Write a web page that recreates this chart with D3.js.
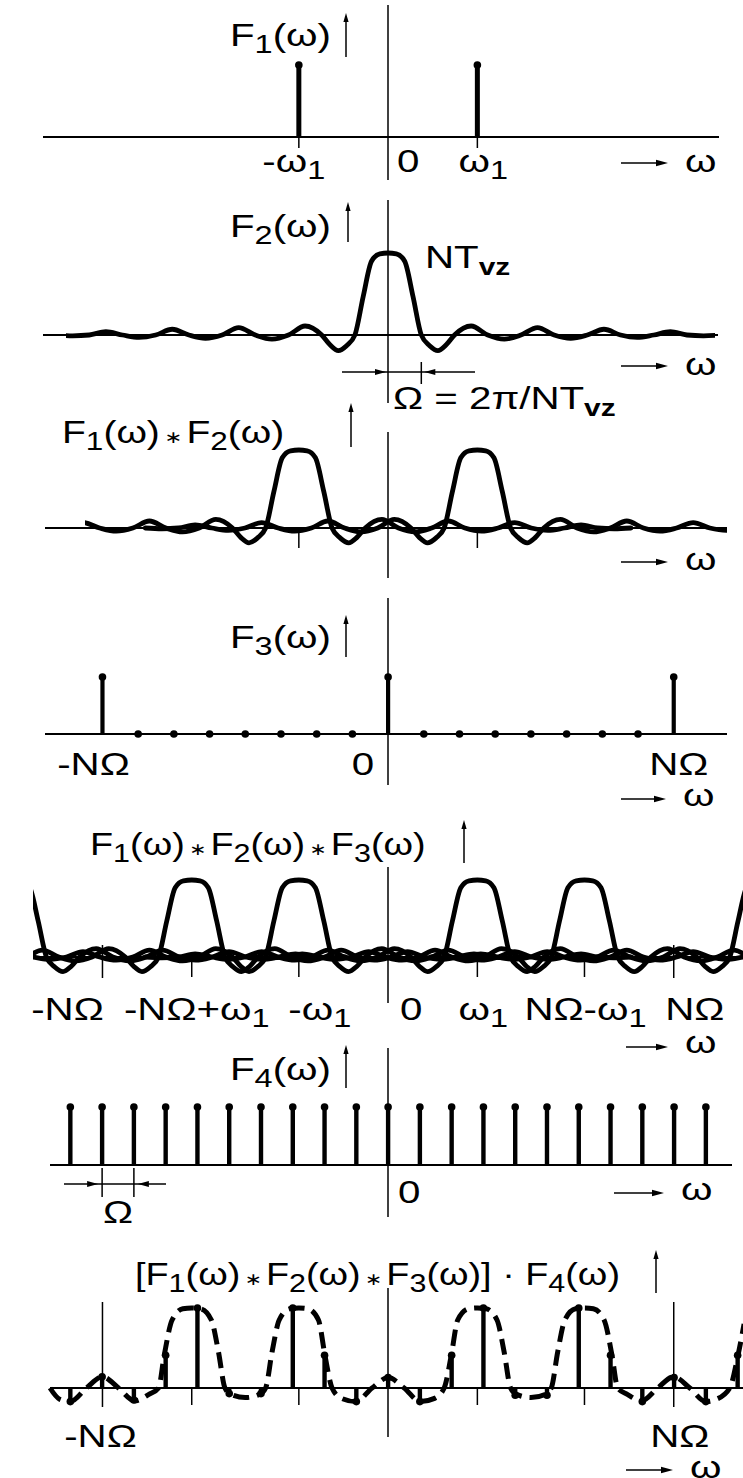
<!DOCTYPE html>
<html>
<head>
<meta charset="utf-8">
<script src="https://d3js.org/d3.v7.min.js"></script>
<style>
  body { margin: 0; background: #fff; }
  svg { display: block; }
  text { font-family: "Liberation Sans", Arial, sans-serif; font-size: 31px; fill: #000; }
</style>
</head>
<body>
<div id="chart"></div>
<script>
  // ---------- data (ω in a common unit where NΩ = 8, ω1 = 2.5) ----------
  var f1Omega = [-2.5, 2.5];
  var f1Value = [1, 1];

  // F2: right half of the shape, ω in multiples of its zero spacing
  var f2Step = [0, 0.25, 0.5, 0.75, 1, 1.25, 1.5, 1.75, 2, 2.5, 3, 3.5, 4, 4.5, 5, 5.5, 6, 6.5, 7, 7.5, 8, 8.5, 9, 9.5, 10];
  var f2Value = [1, 0.99, 0.9, 0.47, 0, -0.13, -0.19, -0.12, 0, 0.11, 0, -0.05, 0, 0.09, 0, -0.04, 0, 0.07, 0, -0.03, 0, 0.04, 0, -0.01, 0];
  var f2Zero = 0.93;

  var f12Centers = [-2.5, 2.5];
  var f123Centers = [-10.5, -5.5, -2.5, 2.5, 5.5, 10.5];

  var f3Omega = [-8, -7, -6, -5, -4, -3, -2, -1, 0, 1, 2, 3, 4, 5, 6, 7, 8];
  var f3Value = [1, 0, 0, 0, 0, 0, 0, 0, 1, 0, 0, 0, 0, 0, 0, 0, 1];

  var sampleStep = 0.89;
  var f4Index = [-10, -9, -8, -7, -6, -5, -4, -3, -2, -1, 0, 1, 2, 3, 4, 5, 6, 7, 8, 9, 10];
  var f4Value = [1, 1, 1, 1, 1, 1, 1, 1, 1, 1, 1, 1, 1, 1, 1, 1, 1, 1, 1, 1, 1];

  var p7Index = [-10, -9, -8, -7, -6, -5, -4, -3, -2, -1, 0, 1, 2, 3, 4, 5, 6, 7, 8, 9, 10, 11];
  var p7Value = [-0.17, 0.14, -0.15, 0.41, 1, -0.07, -0.07, 1, 0.41, -0.17, 0.13, -0.17, 0.41, 1, -0.09, -0.09, 1, 0.41, -0.17, 0.13, -0.17, 0.41];

  // dashed envelope of the last panel
  var p7EnvOmega = [-9.47, -9.2, -8.9, -8.45, -8.0, -7.55, -7.1, -6.7, -6.43, -6.27, -6.05, -5.75, -5.5, -5.25, -4.95, -4.75, -4.57, -4.4, -4.0, -3.6, -3.43, -3.25, -3.05, -2.75, -2.5, -2.25, -1.95, -1.77, -1.57, -1.3, -0.9, -0.45, 0,
    0.45, 0.9, 1.3, 1.57, 1.77, 1.95, 2.25, 2.5, 2.75, 3.05, 3.25, 3.43, 3.6, 4.0, 4.4, 4.57, 4.75, 4.95, 5.25, 5.5, 5.75, 6.05, 6.27, 6.43, 6.7, 7.1, 7.55, 8.0, 8.45, 8.9, 9.2, 9.57, 9.8, 9.97];
  var p7EnvValue = [0, -0.14, -0.17, 0, 0.14, 0, -0.16, -0.08, 0, 0.41, 0.85, 0.99, 1, 0.99, 0.85, 0.45, 0, -0.08, -0.12, -0.08, 0, 0.45, 0.85, 0.99, 1, 0.99, 0.85, 0.41, 0, -0.13, -0.17, 0, 0.13,
    0, -0.17, -0.13, 0, 0.41, 0.85, 0.99, 1, 0.99, 0.85, 0.45, 0, -0.08, -0.12, -0.08, 0, 0.45, 0.85, 0.99, 1, 0.99, 0.85, 0.41, 0, -0.08, -0.16, 0, 0.14, 0, -0.17, -0.14, 0, 0.41, 0.8];

  var p1Ticks = [-2.5, 2.5];
  var p5Ticks = [-5.5, -2.5, 2.5, 5.5];
  var nOmegaMarks = [-8, 8];

  var p1Labels = ["-ω_1", "0", "ω_1"], p1LabelAt = [-2.5, 0, 2.5];
  var p4Labels = ["-NΩ", "0", "NΩ"], p4LabelAt = [-8, 0, 8];
  var p5Labels = ["-NΩ", "-NΩ+ω_1", "-ω_1", "0", "ω_1", "NΩ-ω_1", "NΩ"], p5LabelAt = [-8, -5.5, -2.5, 0, 2.5, 5.5, 8];
  var p7Labels = ["-NΩ", "NΩ"], p7LabelAt = [-8, 8];

  // ---------- layout ----------
  var W = 743, H = 1478, SX = 1.3;
  var x = d3.scaleLinear().domain([-10.87, 9.94]).range([0, W]);
  function yScale(base, h) { return d3.scaleLinear().domain([0, 1]).range([base, base - h]); }

  var svg = d3.select("#chart").append("svg").attr("width", W).attr("height", H);
  var defs = svg.append("defs");

  function seg(x1, y1, x2, y2, w) {
    svg.append("line").attr("x1", x1).attr("y1", y1).attr("x2", x2).attr("y2", y2)
      .attr("stroke", "#000").attr("stroke-width", w || 1.6);
  }

  function head(tx, ty, dir, L, B) {
    L = L || 11; B = B || 3;
    var p;
    if (dir === "up") p = [[tx, ty], [tx - B, ty + L], [tx + B, ty + L]];
    else if (dir === "right") p = [[tx, ty], [tx - L, ty - B], [tx - L, ty + B]];
    else p = [[tx, ty], [tx + L, ty - B], [tx + L, ty + B]];
    svg.append("path").attr("d", "M" + p.join("L") + "Z").attr("fill", "#000");
  }

  function arrowUp(xp, yb, yt) { seg(xp, yb, xp, yt + 5, 1.5); head(xp, yt, "up", 9, 2.6); }
  function arrowRight(x1, x2, yp) { seg(x1, yp, x2 - 6, yp, 1.6); head(x2, yp, "right", 12, 3.2); }

  function label(px, py, str, anchor, sx) {
    var t = svg.append("text")
      .attr("transform", "translate(" + px + "," + py + ") scale(" + (sx || SX) + ",1)")
      .attr("text-anchor", anchor || "start");
    var shift = 0;
    str.split(/(_\w+|∗)/).forEach(function (s) {
      if (!s) return;
      var sp = t.append("tspan");
      if (s[0] === "_") {
        sp.text(s.slice(1)).attr("font-size", s.length > 2 ? 23 : 25).attr("dy", 7 - shift);
        if (s.length > 2) sp.attr("font-weight", "bold");
        shift = 7;
      } else if (s === "∗") {
        sp.text("\u2009∗\u2009").attr("font-size", 17).attr("font-family", "DejaVu Sans").attr("dy", -shift);
        shift = 0;
      } else {
        sp.text(s).attr("dy", -shift);
        shift = 0;
      }
    });
  }

  function omegaArrow(yArrow, x1, x2, yText) {
    arrowRight(x1, x2, yArrow);
    label(x2 + 17, yText, "ω");
  }

  function clipRect(id, x1, x2) {
    defs.append("clipPath").attr("id", id).append("rect")
      .attr("x", x1).attr("y", 0).attr("width", x2 - x1).attr("height", H);
  }

  function f2Points(center) {
    var pts = [], i;
    for (i = f2Step.length - 1; i > 0; i--) pts.push([center - f2Step[i] * f2Zero, f2Value[i]]);
    for (i = 0; i < f2Step.length; i++) pts.push([center + f2Step[i] * f2Zero, f2Value[i]]);
    return pts;
  }

  function drawCurves(ys, centers, clipId) {
    var line = d3.line().x(function (d) { return x(d[0]); }).y(function (d) { return ys(d[1]); })
      .curve(d3.curveMonotoneX);
    svg.append("g").attr("clip-path", "url(#" + clipId + ")")
      .selectAll("path").data(centers).enter().append("path")
      .attr("d", function (c) { return line(f2Points(c)); })
      .attr("fill", "none").attr("stroke", "#000").attr("stroke-width", 4.8)
      .attr("stroke-linejoin", "round").attr("stroke-linecap", "round");
  }

  function drawStems(ys, omegas, values, w) {
    var g = svg.append("g");
    omegas.forEach(function (o, i) {
      var v = values[i];
      if (v !== 0) {
        g.append("line").attr("x1", x(o)).attr("x2", x(o)).attr("y1", ys(0)).attr("y2", ys(v))
          .attr("stroke", "#000").attr("stroke-width", w || 4.2);
      }
      g.append("circle").attr("cx", x(o)).attr("cy", ys(v)).attr("r", 3.8).attr("fill", "#000");
    });
  }

  // ---------- panel 1 : F1 ----------
  var y1 = yScale(137, 72);
  seg(43, 137, 719, 137, 1.8);
  seg(388, 5, 388, 180, 1.5);
  p1Ticks.forEach(function (t) { seg(x(t), 137, x(t), 148, 1.5); });
  drawStems(y1, f1Omega, f1Value, 5);
  label(230, 46, "F_1(ω)");
  arrowUp(346, 57, 13);
  label(x(p1LabelAt[0]) - 5, 172, p1Labels[0], "middle");
  label(x(p1LabelAt[1]) + 9, 172, p1Labels[1]);
  label(x(p1LabelAt[2]) + 6, 172, p1Labels[2], "middle");
  omegaArrow(163, 621, 668, 172);

  // ---------- panel 2 : F2 ----------
  var y2 = yScale(335, 82);
  seg(43, 335, 718, 335, 1.8);
  seg(388, 200, 388, 403, 1.5);
  clipRect("clip2", 66, 715);
  drawCurves(y2, [0], "clip2");
  label(230, 237, "F_2(ω)");
  arrowUp(348, 242, 202);
  label(425, 268, "NT_vz");
  omegaArrow(366, 621, 668, 375);
  seg(342, 372, 475, 372, 1.5);
  head(386, 372, "right", 11, 3);
  seg(x(f2Zero), 362, x(f2Zero), 384, 1.5);
  head(x(f2Zero) + 3, 372, "left", 11, 3);
  label(393, 409, "Ω = 2π/NT_vz");

  // ---------- panel 3 : F1 * F2 ----------
  var y3 = yScale(528, 78);
  seg(45, 528, 727, 528, 1.8);
  seg(388, 432, 388, 578, 1.5);
  p1Ticks.forEach(function (t) { seg(x(t), 528, x(t), 548, 1.5); });
  clipRect("clip3", 85, 727);
  drawCurves(y3, f12Centers, "clip3");
  label(62, 443, "F_1(ω)∗F_2(ω)", "start", 1.26);
  arrowUp(351, 447, 403);
  omegaArrow(562, 621, 668, 570);

  // ---------- panel 4 : F3 ----------
  var y4 = yScale(734, 57);
  seg(45, 734, 727, 734, 1.8);
  seg(388, 598, 388, 785, 1.5);
  drawStems(y4, f3Omega, f3Value, 4.2);
  label(230, 648, "F_3(ω)");
  arrowUp(346, 657, 615);
  label(x(p4LabelAt[0]) - 9, 775, p4Labels[0], "middle");
  label(x(p4LabelAt[1]) - 14, 775, p4Labels[1], "end");
  label(x(p4LabelAt[2]) + 5, 775, p4Labels[2], "middle");
  omegaArrow(799, 621, 666, 806);

  // ---------- panel 5 : F1 * F2 * F3 ----------
  var y5 = yScale(957, 77);
  seg(33, 957, 743, 957, 1.8);
  seg(388, 867, 388, 1003, 1.5);
  p5Ticks.forEach(function (t) { seg(x(t), 957, x(t), 977, 1.5); });
  nOmegaMarks.forEach(function (t) { seg(x(t), 945, x(t), 978, 1.5); });
  clipRect("clip5", 33, 743);
  drawCurves(y5, f123Centers, "clip5");
  label(90, 855, "F_1(ω)∗F_2(ω)∗F_3(ω)", "start", 1.22);
  arrowUp(464, 863, 820);
  var p5Nudge = [-35, 5, 21, 12, 6, 1, 21];
  p5Labels.forEach(function (s, i) {
    label(x(p5LabelAt[i]) + p5Nudge[i], 1020, s, s === "0" ? "start" : "middle");
  });
  omegaArrow(1047, 626, 668, 1053);

  // ---------- panel 6 : F4 ----------
  var y6 = yScale(1165, 58);
  seg(50, 1165, 732, 1165, 1.8);
  seg(388, 1048, 388, 1217, 1.5);
  drawStems(y6, f4Index.map(function (k) { return k * sampleStep; }), f4Value, 4.4);
  label(230, 1080, "F_4(ω)");
  arrowUp(346, 1088, 1045);
  label(x(0) + 10, 1203, "0");
  omegaArrow(1193, 614, 664, 1200);
  var om1 = x(-9 * sampleStep), om2 = x(-8 * sampleStep);
  seg(64, 1184, 166, 1184, 1.5);
  seg(om1, 1168, om1, 1197, 1.5);
  seg(om2, 1168, om2, 1197, 1.5);
  head(om1 - 4, 1184, "right", 11, 3);
  head(om2 + 4, 1184, "left", 11, 3);
  label((om1 + om2) / 2, 1223, "Ω", "middle");

  // ---------- panel 7 : sampled ----------
  var y7 = yScale(1388, 80);
  seg(50, 1388, 743, 1388, 1.8);
  seg(388, 1288, 388, 1437, 1.5);
  nOmegaMarks.forEach(function (t) { seg(x(t), 1302, x(t), 1407, 1.5); });
  p5Ticks.forEach(function (t) { seg(x(t), 1388, x(t), 1405, 1.5); });
  var envLine = d3.line().x(function (d) { return x(d); })
    .y(function (d, i) { return y7(p7EnvValue[i]); }).curve(d3.curveMonotoneX);
  svg.append("path").attr("d", envLine(p7EnvOmega))
    .attr("fill", "none").attr("stroke", "#000").attr("stroke-width", 5)
    .attr("stroke-dasharray", "16 8");
  drawStems(y7, p7Index.map(function (k) { return k * sampleStep; }), p7Value, 4.4);
  label(135, 1285, "[F_1(ω)∗F_2(ω)∗F_3(ω)] · F_4(ω)", "start", 1.22);
  arrowUp(656, 1293, 1250);
  label(x(p7LabelAt[0]) - 2, 1447, p7Labels[0], "middle");
  label(x(p7LabelAt[1]) + 6, 1447, p7Labels[1], "middle");
  omegaArrow(1470, 626, 673, 1478);
</script>
</body>
</html>
